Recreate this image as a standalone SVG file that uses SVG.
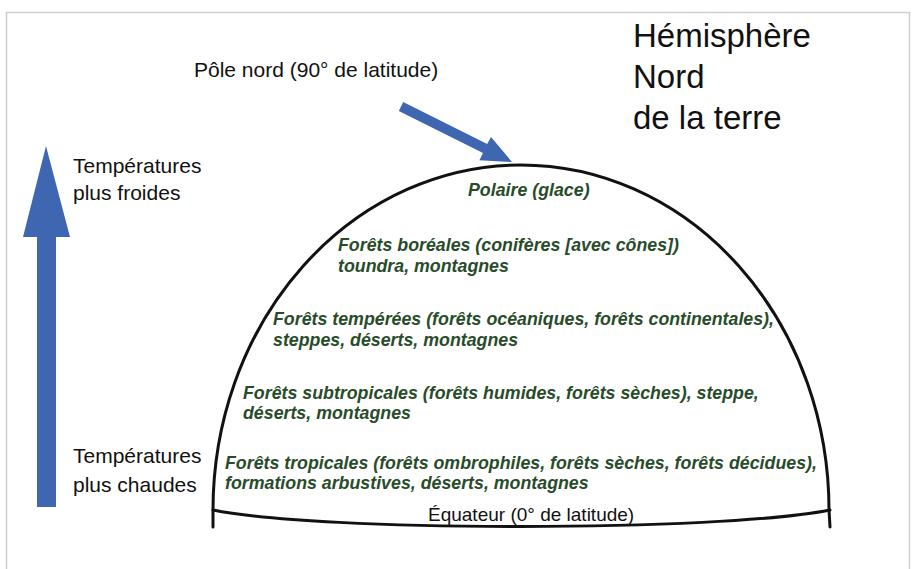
<svg xmlns="http://www.w3.org/2000/svg" width="916" height="569" viewBox="0 0 916 569">
<style>
.lbl{font-family:"Liberation Sans",Arial,sans-serif;fill:#111}
.biome{font-family:"Liberation Sans",Arial,sans-serif;font-weight:bold;font-style:italic;font-size:17.8px;fill:#284c2a}
.blue{fill:#3f67b1}
.line{fill:none;stroke:#111;stroke-width:3;stroke-linecap:round}
</style>
<rect x="6.5" y="12.5" width="903" height="570" fill="#fff" stroke="#cfcfcf" stroke-width="1.5"/>
<g id="title">
<text class="lbl" font-size="33" x="633" y="47">Hémisphère</text>
<text class="lbl" font-size="33" x="633" y="88">Nord</text>
<text class="lbl" font-size="33" x="633" y="129">de la terre</text>
</g>
<g id="dome">
<path class="line" d="M213,527 L213,510 A308,345 0 0 1 829,510 L830,527"/>
<path class="line" d="M213,510 C320,532 720,532 830,510"/>
<text class="lbl" font-size="19" x="428" y="521">Équateur (0° de latitude)</text>
</g>
<g id="pole">
<text class="lbl" font-size="21" x="194" y="77">Pôle nord (90° de latitude)</text>
</g>
<g id="connectors">
<polygon class="blue" points="403.2,102 487.2,144 491,137 512,162 479.4,160.2 483,153.1 398.8,111"/>
<polygon class="blue" points="46,146 70,237 56,237 56,507 37,507 37,237 23,237"/>
</g>
<g id="temp-cold">
<text class="lbl" font-size="21" x="73" y="173">Températures</text>
<text class="lbl" font-size="21" x="73" y="200">plus froides</text>
</g>
<g id="temp-warm">
<text class="lbl" font-size="21" x="73" y="463">Températures</text>
<text class="lbl" font-size="21" x="73" y="492">plus chaudes</text>
</g>
<g id="polaire"><text class="biome" x="468" y="196">Polaire (glace)</text></g>
<g id="boreal">
<text class="biome" x="338" y="251">Forêts boréales (conifères [avec cônes])</text>
<text class="biome" x="338" y="272">toundra, montagnes</text>
</g>
<g id="tempere">
<text class="biome" x="273" y="325">Forêts tempérées (forêts océaniques, forêts continentales),</text>
<text class="biome" x="273" y="346">steppes, déserts, montagnes</text>
</g>
<g id="subtropical">
<text class="biome" x="243" y="399">Forêts subtropicales (forêts humides, forêts sèches), steppe,</text>
<text class="biome" x="243" y="419">déserts, montagnes</text>
</g>
<g id="tropical">
<text class="biome" x="225" y="469">Forêts tropicales (forêts ombrophiles, forêts sèches, forêts décidues),</text>
<text class="biome" x="225" y="489">formations arbustives, déserts, montagnes</text>
</g>
</svg>
